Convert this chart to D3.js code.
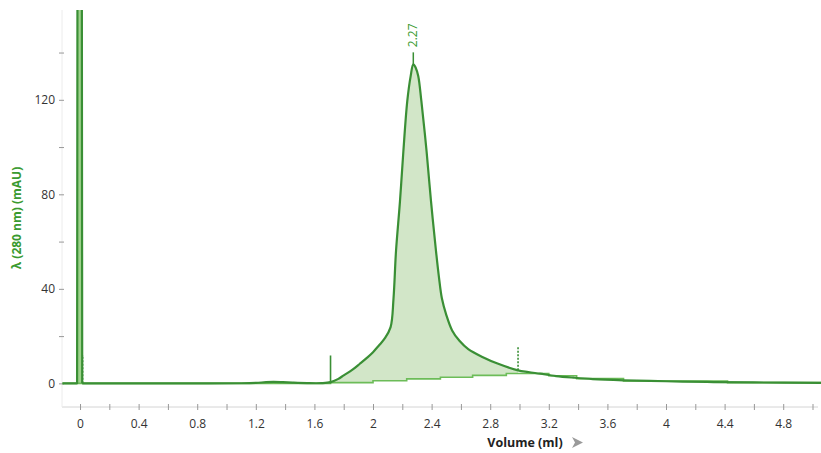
<!DOCTYPE html>
<html><head><meta charset="utf-8">
<script src="https://cdn.jsdelivr.net/npm/d3@7"></script>
<style>
html,body{margin:0;padding:0;background:#fff;}
svg{display:block;font-family:"Open Sans","Noto Sans",sans-serif;}
</style></head>
<body>
<svg id="chart" width="821" height="453"></svg>
<script>
// ---- data ----
const volume = [-0.12, -0.02, -0.017, 0.012, 0.015, 0.4, 0.8, 1.1, 1.2, 1.27, 1.32, 1.38, 1.45, 1.55, 1.65,
  1.71, 1.76, 1.80, 1.86, 1.91, 1.96, 2.00, 2.04, 2.08, 2.12, 2.14, 2.157, 2.184, 2.207, 2.234, 2.257, 2.275,
  2.292, 2.309, 2.33, 2.366, 2.396, 2.43, 2.45, 2.47, 2.50, 2.54, 2.59, 2.65, 2.75, 2.85, 2.99,
  3.06, 3.14, 3.25, 3.37, 3.5, 3.71, 4.0, 4.28, 4.6, 5.06];
const absorbance = [0, 0, 200, 200, 0, 0, 0, 0.05, 0.2, 0.5, 0.6, 0.5, 0.3, 0.1, 0.1,
  0.5, 1.8, 3.4, 5.8, 8.3, 10.9, 13.2, 16, 19, 23.8, 36, 56, 77, 98, 119.5, 130, 135,
  133.5, 130, 119.5, 98, 77, 56, 45, 36, 29, 22.4, 18, 14.5, 11.1, 8.4, 5.5,
  4.8, 4.1, 3.1, 2.4, 1.8, 1.3, 0.9, 0.6, 0.4, 0.2];
const baseVolume = [-0.12, 1.71, 2.00, 2.23, 2.46, 2.68, 2.91, 3.2, 3.39, 3.71, 4.42, 5.06];
const baseValue  = [0, 0.3, 1.1, 1.9, 2.6, 3.4, 4.2, 3.2, 2.0, 1.0, 0.3, 0.3];
const peakLabel = "2.27";
const peakVolume = 2.275, peakValue = 135;
const peakStart = 1.71, peakEnd = 2.99;
const injectVolume = 0.012;
const xTicks = [0,0.2,0.4,0.6,0.8,1,1.2,1.4,1.6,1.8,2,2.2,2.4,2.6,2.8,3,3.2,3.4,3.6,3.8,4,4.2,4.4,4.6,4.8,5];
const xTickLabels = ["0","0.4","0.8","1.2","1.6","2","2.4","2.8","3.2","3.6","4","4.4","4.8"];
const yTicks = [0,20,40,60,80,100,120,140];
const yTickLabels = ["0","40","80","120"];
const xTitle = "Volume (ml)";
const yTitle = "λ (280 nm) (mAU)";

// ---- layout ----
const svg = d3.select("#chart");
const L = 62, R = 821, T = 10, B = 407;
const x = d3.scaleLinear().domain([-0.123, 5.058]).range([L, R]);
const y = d3.scaleLinear().domain([-10, 158]).range([B, T]);

const dark = "#3a8f35", light = "#6cbc58", fillC = "#d2e6c8", title = "#3a9a30";

svg.append("defs").append("clipPath").attr("id","plot")
  .append("rect").attr("x",L).attr("y",T).attr("width",R-L).attr("height",B-T);

// axes lines
svg.append("line").attr("x1",L).attr("x2",818).attr("y1",B).attr("y2",B).attr("stroke","#d4d4d4");
svg.append("line").attr("x1",L).attr("x2",L).attr("y1",T).attr("y2",B).attr("stroke","#ececec");

// x ticks
const xAxis = d3.axisBottom(x).tickValues(xTicks).tickSize(0)
  .tickFormat(d => xTickLabels.includes(String(+d.toFixed(1))) ? String(+d.toFixed(1)) : "");
const gx = svg.append("g").attr("transform",`translate(0,${B})`).call(xAxis);
gx.select(".domain").remove();
gx.selectAll(".tick").append("line").attr("y1",-3).attr("y2",3).attr("stroke","#999");
gx.selectAll("text").attr("dy",null).attr("y",21).attr("font-size",12).attr("fill","#333")
  .attr("font-family","'Open Sans','Noto Sans',sans-serif");

// y ticks
const yAxis = d3.axisLeft(y).tickValues(yTicks).tickSize(0)
  .tickFormat(d => yTickLabels.includes(String(d)) ? String(d) : "");
const gy = svg.append("g").attr("transform",`translate(${L},0)`).call(yAxis);
gy.select(".domain").remove();
gy.selectAll(".tick").append("line").attr("x1",-3).attr("x2",2).attr("stroke","#999");
gy.selectAll("text").attr("x",-7).attr("font-size",12).attr("fill","#333")
  .attr("font-family","'Open Sans','Noto Sans',sans-serif");

// data
const pts = volume.map((v,i)=>({v, a: absorbance[i]}));
const base = baseVolume.map((v,i)=>({v, a: baseValue[i]}));
const spikePts = pts.filter(d=>d.v <= 0.015);
const restPts = pts.filter(d=>d.v >= 0.015);
const plot = svg.append("g").attr("clip-path","url(#plot)");
const crv = d3.curveCatmullRom.alpha(0.5);

// clip for peak fill: region above baseline between peak start/end
const baseIn = base.filter(d=>d.v < peakEnd);
const clipArea = d3.area().curve(d3.curveStepAfter)
  .x(d=>x(Math.max(d.v, peakStart))).y0(d=>y(d.a)).y1(T);
const bseg = baseIn.filter(d=>d.v>=peakStart).concat([{v:peakEnd, a:baseIn[baseIn.length-1].a}]);
svg.select("defs").append("clipPath").attr("id","peakclip")
  .append("path").attr("d", clipArea(bseg));

const under = d3.area().curve(crv).x(d=>x(d.v)).y0(y(0)).y1(d=>y(d.a));
plot.append("g").attr("clip-path","url(#peakclip)")
  .append("path").attr("d", under(restPts.filter(d=>d.v>=peakStart-0.05 && d.v<=peakEnd+0.08)))
  .attr("fill", fillC);

// injection spike fill
plot.append("path").attr("d", d3.area().x(d=>x(d.v)).y0(y(0)).y1(d=>y(d.a))(spikePts.filter(d=>d.v>=-0.02)))
  .attr("fill", "#9fd28c");

// baseline
plot.append("path").attr("d", d3.line().curve(d3.curveStepAfter).x(d=>x(d.v)).y(d=>y(d.a))(base))
  .attr("fill","none").attr("stroke",light).attr("stroke-width",1.6);

// curve: spike segment linear, remainder smooth
plot.append("path").attr("d", d3.line().x(d=>x(d.v)).y(d=>y(d.a))(spikePts))
  .attr("fill","none").attr("stroke",dark).attr("stroke-width",2.2).attr("stroke-linejoin","round");
plot.append("path").attr("d", d3.line().curve(crv).x(d=>x(d.v)).y(d=>y(d.a))(restPts))
  .attr("fill","none").attr("stroke",dark).attr("stroke-width",2.2).attr("stroke-linejoin","round");

// markers
svg.append("line").attr("x1",x(peakStart)).attr("x2",x(peakStart)).attr("y1",y(0)).attr("y2",y(11.8))
  .attr("stroke",dark).attr("stroke-width",1.6);
svg.append("line").attr("x1",x(peakEnd)).attr("x2",x(peakEnd)).attr("y1",y(5.5)).attr("y2",y(15.8))
  .attr("stroke",dark).attr("stroke-width",1.6).attr("stroke-dasharray","2,1.5");
svg.append("line").attr("x1",x(injectVolume)+1).attr("x2",x(injectVolume)+1).attr("y1",y(0)).attr("y2",y(12))
  .attr("stroke",dark).attr("stroke-width",1.3).attr("stroke-dasharray","2,1.5");
svg.append("line").attr("x1",x(peakVolume)).attr("x2",x(peakVolume)).attr("y1",y(peakValue)).attr("y2",y(peakValue)-12)
  .attr("stroke",dark).attr("stroke-width",1.5);
svg.append("text").attr("transform",`translate(${x(peakVolume)+4},${y(peakValue)-29}) rotate(-90)`)
  .attr("text-anchor","middle").attr("font-size",12).attr("fill",title).text(peakLabel);

// titles
svg.append("text").attr("x",525).attr("y",447).attr("text-anchor","middle")
  .attr("font-size",12.5).attr("font-weight","bold").attr("fill","#222").text(xTitle);
svg.append("path").attr("d","M572,437 L583,442.5 L572,448 L575,442.5 Z").attr("fill","#9a9a9a");
svg.append("text").attr("transform","translate(21,218) rotate(-90)").attr("text-anchor","middle")
  .attr("font-size",12).attr("font-weight","bold").attr("fill",title).text(yTitle);
</script>
</body></html>
